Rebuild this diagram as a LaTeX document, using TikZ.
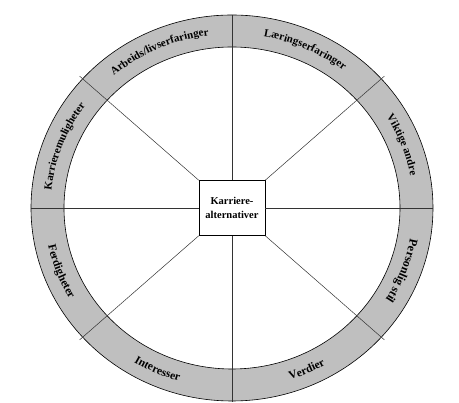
\documentclass[tikz,border=0pt]{standalone}
\usepackage{fontspec}
\setmainfont{Liberation Serif}
\usetikzlibrary{decorations.text}
\begin{document}
\begin{tikzpicture}[x=1pt,y=1pt,
  spoke/.style={line width=0.5pt, draw=black!80},
  rim/.style={line width=0.6pt, draw=black},
  ringlabel/.style={decorate, decoration={text along path, text align=center, text={#1}}},
]
\useasboundingbox (-232,-195) rectangle (227,208);
% ring
\fill[gray!50, even odd rule] (0,0) ellipse [x radius=201, y radius=193] (0,0) ellipse [x radius=168, y radius=161];
\draw[rim] (0,0) ellipse [x radius=201, y radius=193];
\draw[rim] (0,0) ellipse [x radius=168, y radius=161];
% centre box
\node[draw, fill=white, minimum width=66pt, minimum height=55pt, inner sep=0pt, align=center,
      font=\fontsize{10.5}{13.5}\selectfont\bfseries, line width=0.6pt] (box) at (0,0) {Karriere-\\alternativer};
% spoke ends
\coordinate (oN) at (90:201 and 193);
\coordinate (oS) at (270:201 and 194);
\coordinate (oE) at (0:201 and 193);
\coordinate (oW) at (180:201 and 193);
\coordinate (oNE) at (42:205 and 197);
\coordinate (oNW) at (138:205 and 197);
\coordinate (oSW) at (222:205 and 197);
\coordinate (oSE) at (318:205 and 197);
% spokes
\draw[spoke] (box.north) -- (oN);
\draw[spoke] (box.south) -- (oS);
\draw[spoke] (box.east) -- (oE);
\draw[spoke] (box.west) -- (oW);
\draw[spoke] (box.north east) -- (oNE);
\draw[spoke] (box.north west) -- (oNW);
\draw[spoke] (box.south west) -- (oSW);
\draw[spoke] (box.south east) -- (oSE);
% labels, upper (clockwise, tops outward)
\path[ringlabel={|\fontsize{11}{13}\selectfont\bfseries|Karrieremuligheter}]
  (179:181.5 and 174) arc[start angle=179, end angle=139, x radius=181.5, y radius=174];
\path[ringlabel={|\fontsize{11}{13}\selectfont\bfseries|Arbeids/livserfaringer}]
  (136:181.5 and 174) arc[start angle=136, end angle=92, x radius=181.5, y radius=174];
\path[ringlabel={|\fontsize{11}{13}\selectfont\bfseries|Læringserfaringer}]
  (88:181.5 and 174) arc[start angle=88, end angle=44, x radius=181.5, y radius=174];
\path[ringlabel={|\fontsize{11}{13}\selectfont\bfseries|Viktige andre}]
  (41:181.5 and 174) arc[start angle=41, end angle=1, x radius=181.5, y radius=174];
\path[ringlabel={|\fontsize{12}{14}\selectfont\bfseries|Personlig stil}]
  (-1:181 and 173.5) arc[start angle=-1, end angle=-41, x radius=181, y radius=173.5];
% labels, lower (counter-clockwise, tops inward)
\path[ringlabel={|\fontsize{11.5}{14}\selectfont\bfseries|Verdier}]
  (-88:188 and 180.5) arc[start angle=-88, end angle=-44, x radius=188, y radius=180.5];
\path[ringlabel={|\fontsize{11.5}{14}\selectfont\bfseries|Interesser}]
  (-136:188 and 180.5) arc[start angle=-136, end angle=-92, x radius=188, y radius=180.5];
\path[ringlabel={|\fontsize{11.5}{14}\selectfont\bfseries|Ferdigheter}]
  (181:188 and 180.5) arc[start angle=181, end angle=221, x radius=188, y radius=180.5];
\end{tikzpicture}
\end{document}
